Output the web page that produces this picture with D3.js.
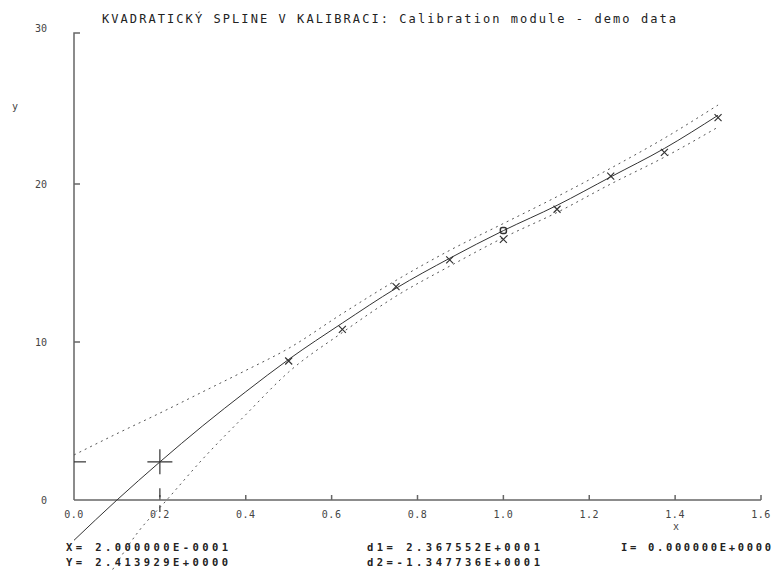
<!DOCTYPE html>
<html><head><meta charset="utf-8">
<script src="https://cdn.jsdelivr.net/npm/d3@7"></script>
<style>body{margin:0;background:#fff}svg{display:block}</style>
</head><body>
<svg id="c" width="774" height="572"></svg>
<script>
const titleText = "KVADRATICKÝ SPLINE V KALIBRACI: Calibration module - demo data";
const xTicks = [0.0, 0.2, 0.4, 0.6, 0.8, 1.0, 1.2, 1.4, 1.6];
const yTicks = [0, 10, 20, 30];
const pointX = [0.5, 0.625, 0.75, 0.875, 1.0, 1.125, 1.25, 1.375, 1.5];
const pointY = [8.8, 10.8, 13.5, 15.2, 16.5, 18.4, 20.5, 22.0, 24.2];
const splineX = [0, 0.1, 0.2, 0.3, 0.4, 0.5, 0.625, 0.75, 0.875, 1.0, 1.125, 1.25, 1.375, 1.5];
const splineY = [-2.55, 0.0, 2.41, 4.7, 6.85, 8.9, 11.2, 13.4, 15.3, 17.05, 18.65, 20.45, 22.25, 24.35];
const upperX = [0, 0.1, 0.2, 0.3, 0.4, 0.5, 0.625, 0.75, 0.875, 1.0, 1.125, 1.25, 1.375, 1.5];
const upperY = [2.85, 4.2, 5.5, 6.85, 8.2, 9.6, 11.8, 13.9, 15.8, 17.5, 19.2, 21.0, 22.9, 25.0];
const lowerX = [0.09, 0.15, 0.216, 0.3, 0.4, 0.5, 0.625, 0.75, 0.875, 1.0, 1.125, 1.25, 1.375, 1.5];
const lowerY = [-4.4, -2.0, 0.0, 2.6, 5.4, 8.1, 10.6, 12.9, 14.8, 16.6, 18.2, 20.0, 21.7, 23.6];
const standardX = [1.0];
const standardY = [17.05];
const cursorX = 0.2, cursorY = 2.413929;
const infoLines = [
  {t: "X= 2.000000E-0001", col: 0, row: 0, w: 162},
  {t: "Y= 2.413929E+0000", col: 0, row: 1, w: 162},
  {t: "d1= 2.367552E+0001", col: 1, row: 0, w: 173},
  {t: "d2=-1.347736E+0001", col: 1, row: 1, w: 173},
  {t: "I= 0.000000E+0000", col: 2, row: 0, w: 150}
];

const svg = d3.select("#c");
const x = d3.scaleLinear().domain([0, 1.6]).range([74, 761]);
const y = d3.scaleLinear().domain([0, 30]).range([500, 26]);
const ink = "#333", axisCol = "#666", txt = "#444";

// title
svg.append("text").attr("x", 102).attr("y", 23)
  .attr("font-family", "DejaVu Sans Mono").attr("font-size", 12)
  .attr("textLength", 574).attr("lengthAdjust", "spacing")
  .attr("fill", "#222").text(titleText);

// axes
const axes = svg.append("g").attr("stroke", axisCol).attr("stroke-width", 1.5).attr("fill", "none");
axes.append("line").attr("x1", x(0)).attr("x2", x(1.6)).attr("y1", y(0)).attr("y2", y(0));
axes.append("path").attr("d", `M${x(0)},${y(0)}V${y(30)+7}H${x(0)+6}`);
xTicks.filter(d => d > 0).forEach(d => {
  axes.append("line").attr("x1", x(d)).attr("x2", x(d)).attr("y1", y(0)).attr("y2", y(0) - 5);
});
yTicks.filter(d => d > 0 && d < 30).forEach(d => {
  axes.append("line").attr("x1", x(0)).attr("x2", x(0) + 6).attr("y1", y(d)).attr("y2", y(d));
});

// tick labels
svg.append("g").selectAll("text").data(xTicks).join("text")
  .attr("x", d => x(d)).attr("y", 518).attr("text-anchor", "middle")
  .attr("font-family", "DejaVu Sans Mono").attr("font-size", 10).attr("fill", txt)
  .attr("letter-spacing", 0.5)
  .text(d => d3.format(".1f")(d));
svg.append("g").selectAll("text").data(yTicks).join("text")
  .attr("x", 47).attr("y", d => y(d) + (d === 30 ? 5.5 : 4)).attr("text-anchor", "end")
  .attr("font-family", "DejaVu Sans Mono").attr("font-size", 10).attr("fill", txt)
  .text(d => d);
svg.append("text").attr("x", 676).attr("y", 530).attr("text-anchor", "middle")
  .attr("font-family", "DejaVu Sans Mono").attr("font-size", 10).attr("fill", txt).text("x");
svg.append("text").attr("x", 15).attr("y", 110).attr("text-anchor", "middle")
  .attr("font-family", "DejaVu Sans Mono").attr("font-size", 10).attr("fill", txt).text("y");

// curves
const line = d3.line().x(d => x(d[0])).y(d => y(d[1])).curve(d3.curveMonotoneX);
const plot = svg.append("g");
plot.append("path").attr("d", line(upperX.map((v, i) => [v, upperY[i]])))
  .attr("fill", "none").attr("stroke", "#555").attr("stroke-width", 1).attr("stroke-dasharray", "2,4");
plot.append("path").attr("d", line(lowerX.map((v, i) => [v, lowerY[i]])))
  .attr("fill", "none").attr("stroke", "#555").attr("stroke-width", 1).attr("stroke-dasharray", "2,4");
plot.append("path").attr("d", line(splineX.map((v, i) => [v, splineY[i]])))
  .attr("fill", "none").attr("stroke", ink).attr("stroke-width", 1);

// data points (crosses)
const s = 3.5;
plot.append("g").selectAll("path").data(pointX.map((v, i) => [v, pointY[i]])).join("path")
  .attr("d", d => `M${x(d[0])-s},${y(d[1])-s}L${x(d[0])+s},${y(d[1])+s}M${x(d[0])-s},${y(d[1])+s}L${x(d[0])+s},${y(d[1])-s}`)
  .attr("stroke", ink).attr("stroke-width", 1.2).attr("fill", "none");

// standard point (circle)
plot.append("g").selectAll("rect").data(standardX.map((v, i) => [v, standardY[i]])).join("rect")
  .attr("x", d => x(d[0]) - 3).attr("y", d => y(d[1]) - 3).attr("width", 6).attr("height", 6).attr("rx", 2)
  .attr("fill", "none").attr("stroke", ink).attr("stroke-width", 1.5);

// cursor
const cx = x(cursorX), cy = y(cursorY);
const cur = plot.append("g").attr("stroke", ink).attr("stroke-width", 1.2).attr("fill", "none");
cur.append("path").attr("d", `M${cx-12.5},${cy}H${cx+12.5}M${cx},${cy-12.5}V${cy+12.5}`);
cur.append("line").attr("x1", x(0)).attr("x2", x(0) + 12).attr("y1", cy).attr("y2", cy);
cur.append("line").attr("x1", cx).attr("x2", cx).attr("y1", cy + 12.5).attr("y2", y(0) + 12)
  .attr("stroke-dasharray", "0,14,9,8,8,100");

// info text
const colX = [66, 367, 621], rowY = [551, 566];
svg.append("g").selectAll("text").data(infoLines).join("text")
  .attr("x", d => colX[d.col]).attr("y", d => rowY[d.row])
  .attr("font-family", "DejaVu Sans Mono").attr("font-weight", "bold").attr("font-size", 10.5)
  .attr("textLength", d => d.w).attr("lengthAdjust", "spacing")
  .attr("fill", "#222").text(d => d.t);
</script>
</body></html>
